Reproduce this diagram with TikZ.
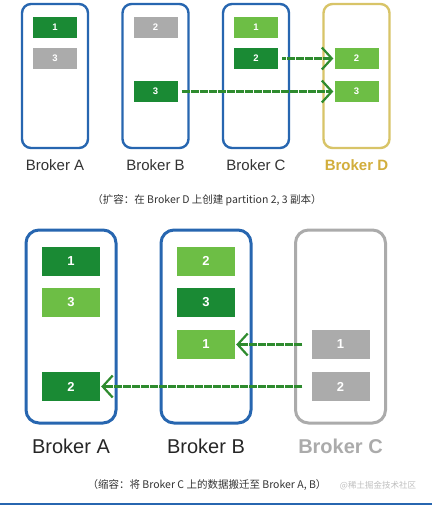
\documentclass[tikz,border=0pt]{standalone}
\usepackage{fontspec}
\setmainfont{Liberation Sans}
\newfontfamily\cjk{Noto Sans CJK SC}
\usepackage{tikz}
\usetikzlibrary{arrows.meta}
\usetikzlibrary{positioning}

\definecolor{brokerblue}{HTML}{2766B0}
\definecolor{newgold}{HTML}{D8C468}
\definecolor{newgoldtext}{HTML}{D2AE3C}
\definecolor{leadgreen}{HTML}{1A8A34}
\definecolor{follgreen}{HTML}{6DBE45}
\definecolor{stalegray}{HTML}{ABABAB}
\definecolor{movegreen}{HTML}{2E8B2E}

\begin{document}
\begin{tikzpicture}[x=1pt,y=-1pt,
    brokerbox/.style={draw=brokerblue,line width=2.4pt,rounded corners=9pt,minimum width=66pt,minimum height=144pt,inner sep=0pt},
    bigbroker/.style={brokerbox,line width=3pt,rounded corners=13pt,minimum width=90pt,minimum height=193pt},
    part/.style={minimum width=44pt,minimum height=21pt,inner sep=0pt,text=white,font=\bfseries\fontsize{9.5}{10}\selectfont},
    bigpart/.style={part,minimum width=58pt,minimum height=29pt,font=\bfseries\fontsize{13}{14}\selectfont},
    lead/.style={fill=leadgreen},
    foll/.style={fill=follgreen},
    stale/.style={fill=stalegray},
    move/.style={draw=movegreen,line width=2.4pt,dash pattern=on 4pt off 0.5pt,-{Straight Barb[length=10pt 0,width=22pt 0,line width=2.2pt]}},
    brokerlabel/.style={font=\fontsize{15}{17}\selectfont,text=black!80},
    biglabel/.style={font=\fontsize{20}{22}\selectfont,text=black!85},
    note/.style={font=\cjk\fontsize{10.5}{12}\selectfont,text=black!80}]
  \useasboundingbox[fill=white] (0,0) rectangle (432,505);

  % expand: new Broker D
  \node[brokerbox] (ba) at (55,76) {};
  \node[brokerbox] (bb) at (155.5,76) {};
  \node[brokerbox] (bc) at (256,76) {};
  \node[brokerbox,draw=newgold] (bd) at (356.5,76) {};

  \node[part,lead] (a1) at (55,27.5) {1};
  \node[part,stale] (a3) at (55,58.5) {3};
  \node[part,stale] (b2) at (155.5,27.5) {2};
  \node[part,lead] (b3) at (155.5,91.5) {3};
  \node[part,foll] (c1) at (256,27.5) {1};
  \node[part,lead] (c2) at (256,58.5) {2};
  \node[part,foll] (d2) at (356.5,58.5) {2};
  \node[part,foll] (d3) at (356.5,91.5) {3};

  \draw[move,shorten <=4pt,shorten >=1pt] (c2) -- (d2);
  \draw[move,shorten <=4pt,shorten >=1pt] (b3) -- (d3);

  \node[brokerlabel] at (55,165) {Broker A};
  \node[brokerlabel] at (155.5,165) {Broker B};
  \node[brokerlabel] at (256,165) {Broker C};
  \node[brokerlabel,font=\bfseries\fontsize{15}{17}\selectfont,text=newgoldtext] at (356.5,165) {Broker D};

  \node[note] at (207,200.5) {（扩容：在 Broker D 上创建 partition 2, 3 副本）};

  % shrink: remove Broker C
  \node[bigbroker] (sa) at (71,326.5) {};
  \node[bigbroker] (sb) at (206,326.5) {};
  \node[bigbroker,draw=stalegray] (sc) at (340.5,326.5) {};

  \node[bigpart,lead] (sa1) at (71,261) {1};
  \node[bigpart,foll] (sa3) at (71,302.5) {3};
  \node[bigpart,lead] (sa2) at (71,386.5) {2};
  \node[bigpart,foll] (sb2) at (206,261) {2};
  \node[bigpart,lead] (sb3) at (206,302.5) {3};
  \node[bigpart,foll] (sb1) at (206,344.5) {1};
  \node[bigpart,stale] (sc1) at (340.5,344.5) {1};
  \node[bigpart,stale] (sc2) at (340.5,386.5) {2};

  \draw[move,shorten <=9pt,shorten >=1pt] (sc1) -- (sb1);
  \draw[move,shorten <=9pt,shorten >=1pt] (sc2) -- (sa2);

  \node[biglabel] at (71,446) {Broker A};
  \node[biglabel] at (206,446) {Broker B};
  \node[biglabel,font=\bfseries\fontsize{20}{22}\selectfont,text=stalegray] at (340.5,446) {Broker C};

  \node[note] at (207,485) {（缩容：将 Broker C 上的数据搬迁至 Broker A, B）};
  \node[font=\cjk\fontsize{8.5}{10}\selectfont,text=black!25] at (378,486) {@稀土掘金技术社区};

  \draw[brokerblue,line width=1.5pt] (0,504) -- (432,504);
\end{tikzpicture}
\end{document}
